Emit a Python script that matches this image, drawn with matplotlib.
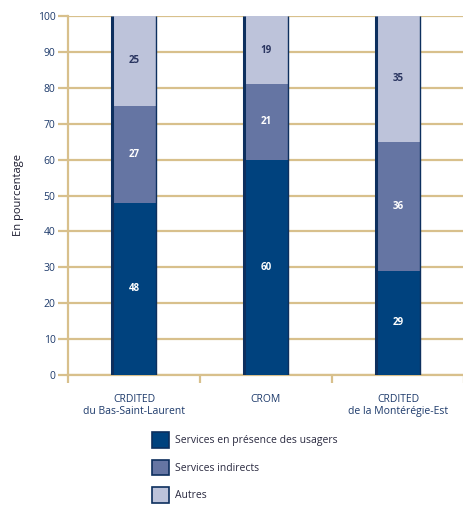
import matplotlib
matplotlib.use("Agg")
import matplotlib.pyplot as plt
from matplotlib.patches import Patch
import numpy as np

categories = ["CRDITED\ndu Bas-Saint-Laurent", "CROM", "CRDITED\nde la Montérégie-Est"]
series_names = ["Services en présence des usagers", "Services indirects", "Autres"]
presence = [48, 60, 29]
indirects = [27, 21, 36]
autres = [25, 19, 35]
yticks = [0, 10, 20, 30, 40, 50, 60, 70, 80, 90, 100]

colors = ["#00427e", "#6575a3", "#bdc3da"]
text_colors = ["white", "white", "#2a3560"]
tan = "#d8c08c"
navy_txt = "#1d3a6b"
edge = "#0d2f5e"

plt.rcParams['font.family'] = ['Open Sans', 'DejaVu Sans']

fig = plt.figure(figsize=(4.64, 5.08), dpi=100)
ax = fig.add_axes([68/464, 1-375/508, 1-68/464, (375-16)/508])

x = np.arange(len(categories))
width = 0.33
bottom = np.zeros(len(categories))
for vals, c, tc in zip([presence, indirects, autres], colors, text_colors):
    vals = np.array(vals, dtype=float)
    ax.bar(x, vals, width=width, bottom=bottom, color=c, linewidth=0, zorder=3)
    for xi, b, v in zip(x, bottom, vals):
        ax.text(xi, b + v/2, f"{int(v)}", ha="center", va="center", color=tc,
                fontsize=7, fontweight="bold", zorder=4)
    bottom += vals

ax.vlines(x - width/2, 0, bottom, color=edge, linewidth=2.2, zorder=4)
ax.vlines(x + width/2, 0, bottom, color=edge, linewidth=1.0, zorder=4)

ax.set_xlim(-0.5, 2.5)
ax.set_ylim(0, 100)
ax.set_yticks(yticks)
ax.set_yticklabels([str(t) for t in yticks], fontsize=7.5, color=navy_txt)
ax.yaxis.grid(True, color=tan, linewidth=1.6, zorder=0)
ax.set_axisbelow(True)

ax.set_xticks(x)
ax.set_xticklabels(categories, fontsize=7.5, color=navy_txt, linespacing=1.1)
ax.set_xticks([-0.5, 0.5, 1.5, 2.5], minor=True)
ax.tick_params(axis="x", which="major", length=0, pad=14)
ax.tick_params(axis="x", which="minor", length=6, width=1.6, color=tan)
ax.tick_params(axis="y", length=7, width=1.6, color=tan, pad=2)

for s in ["top", "right"]:
    ax.spines[s].set_visible(False)
for s in ["left", "bottom"]:
    ax.spines[s].set_color(tan)
    ax.spines[s].set_linewidth(1.6)

ax.set_ylabel("En pourcentage", fontsize=8, color="#1a1a2e", labelpad=10)

handles = [Patch(facecolor=c, edgecolor=edge, linewidth=1.2) for c in colors]
fig.legend(handles, series_names, loc="upper left", bbox_to_anchor=(143/464, 1-423/508),
           frameon=False, fontsize=7.5, handlelength=1.6, handleheight=1.9,
           labelspacing=1.15, handletextpad=0.6, labelcolor="#2a2a40")

fig.savefig("out.png", dpi=100)
